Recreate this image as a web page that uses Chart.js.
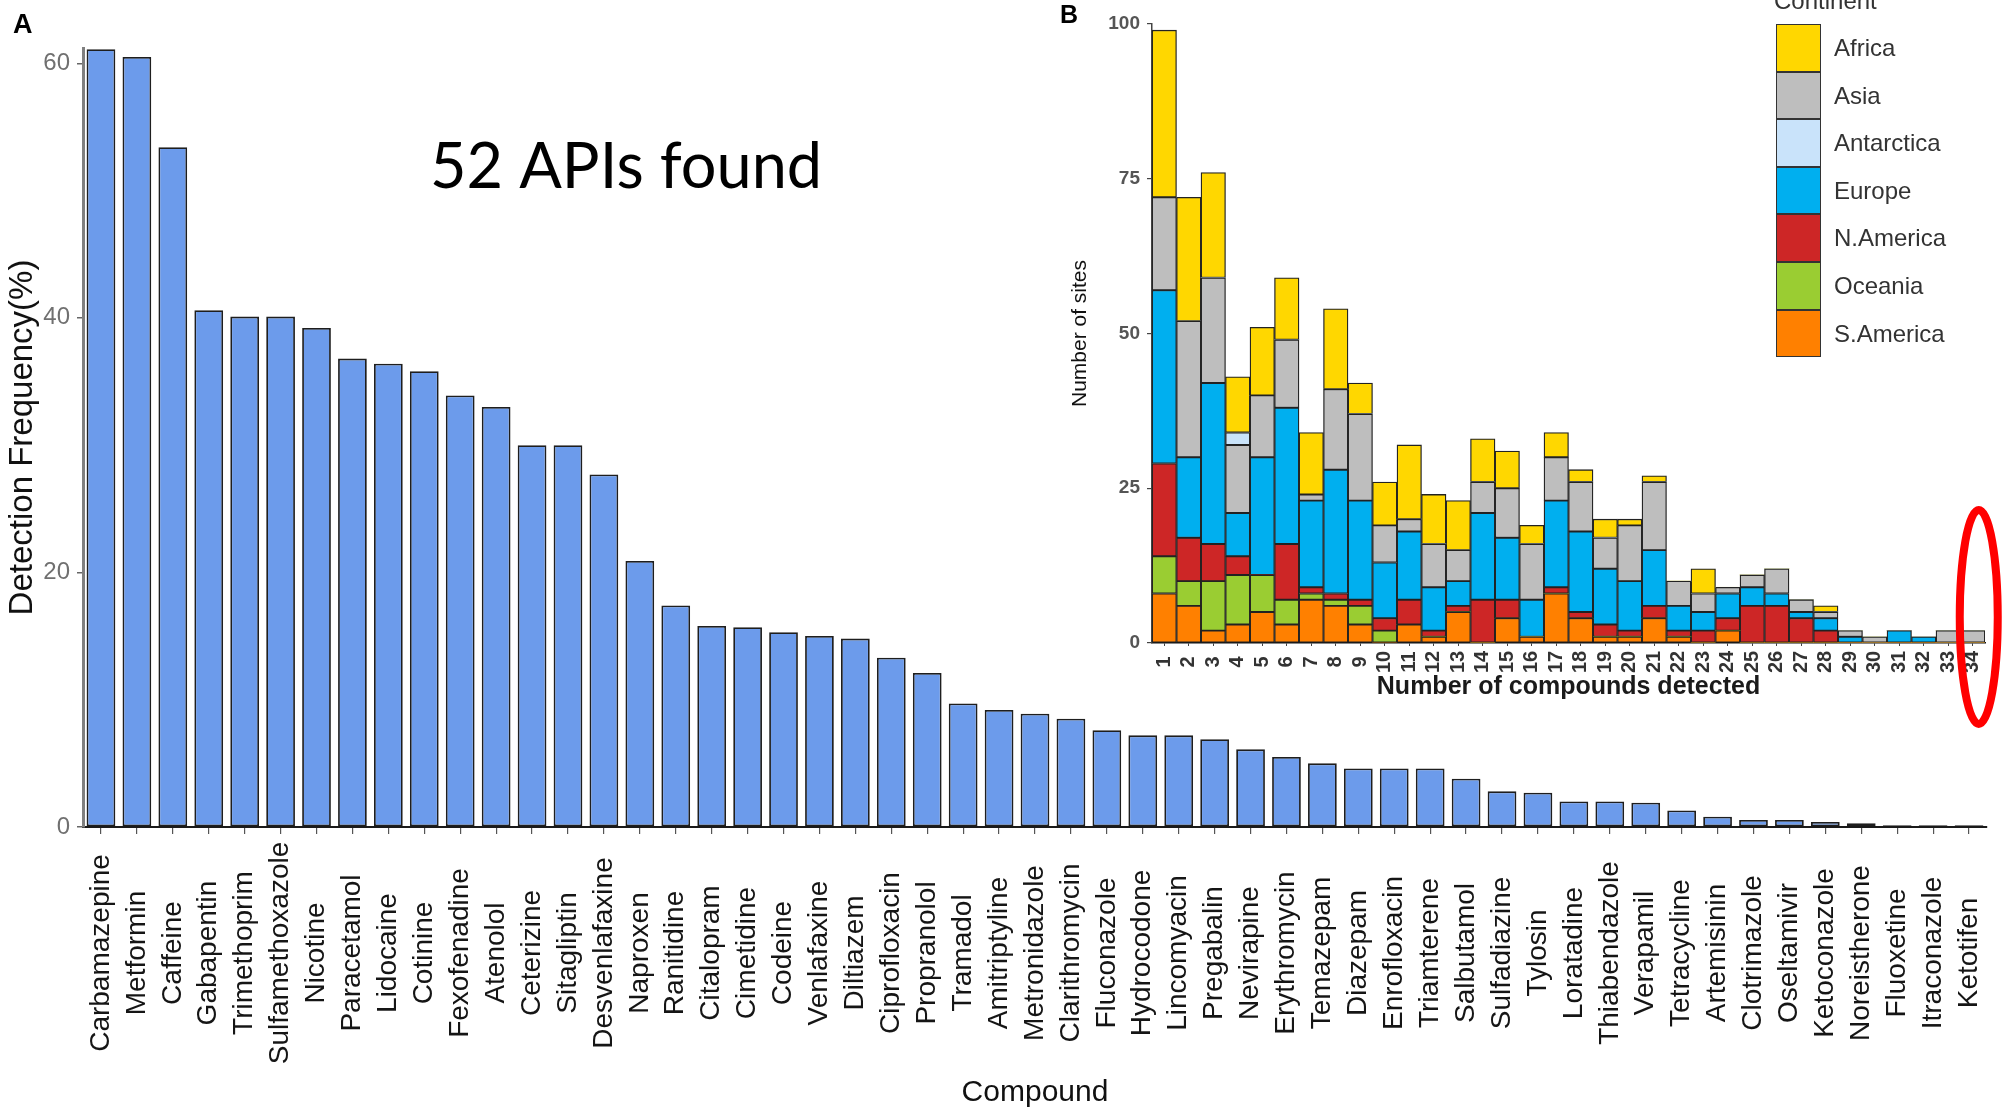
<!DOCTYPE html>
<html>
<head>
<meta charset="utf-8">
<script src="https://cdn.jsdelivr.net/npm/chart.js@4.4.1/dist/chart.umd.min.js"></script>
<style>
  html, body { margin: 0; padding: 0; background: #fff; }
  #wrap { position: relative; width: 2011px; height: 1111px; overflow: hidden; background: #fff;
          font-family: 'Liberation Sans', Arial, sans-serif; }
  #cA { position: absolute; left: 0; top: 0; }
  #cB { position: absolute; left: 1040px; top: 0; }
  #legendTitle { position: absolute; left: 1774px; top: -11px; font-size: 24px; line-height: 24px; color: #333; }
  #legend { position: absolute; left: 1776px; top: 24px; }
  .lrow { position: absolute; left: 0; height: 47.6px; width: 230px; }
  .lkey { position: absolute; left: 0; top: 0; width: 45px; height: 47.6px; box-sizing: border-box; border: 1.6px solid #333; }
  .ltxt { position: absolute; left: 58px; top: 0; line-height: 47.6px; font-size: 24px; color: #333; white-space: nowrap; }
</style>
</head>
<body>
<div id="wrap">
  <canvas id="cA" width="2011" height="1111"></canvas>
  <canvas id="cB" width="971" height="740"></canvas>
  <div id="legendTitle">Continent</div>
  <div id="legend"></div>
</div>
<script>
// ---------- Panel A data ----------
const compounds = ["Carbamazepine","Metformin","Caffeine","Gabapentin","Trimethoprim","Sulfamethoxazole","Nicotine",
  "Paracetamol","Lidocaine","Cotinine","Fexofenadine","Atenolol","Ceterizine","Sitagliptin","Desvenlafaxine",
  "Naproxen","Ranitidine","Citalopram","Cimetidine","Codeine","Venlafaxine","Diltiazem","Ciprofloxacin",
  "Propranolol","Tramadol","Amitriptyline","Metronidazole","Clarithromycin","Fluconazole","Hydrocodone",
  "Lincomyacin","Pregabalin","Nevirapine","Erythromycin","Temazepam","Diazepam","Enrofloxacin","Triamterene",
  "Salbutamol","Sulfadiazine","Tylosin","Loratadine","Thiabendazole","Verapamil","Tetracycline","Artemisinin",
  "Clotrimazole","Oseltamivir","Ketoconazole","Noreistherone","Fluoxetine","Itraconazole","Ketotifen"];
const detectionFrequency = [61.1,60.5,53.4,40.6,40.1,40.1,39.2,36.8,36.4,35.8,33.9,33.0,30.0,30.0,27.7,
  20.9,17.4,15.8,15.7,15.3,15.0,14.8,13.3,12.1,9.7,9.2,8.9,8.5,7.6,7.2,7.2,6.9,6.1,5.5,5.0,4.6,4.6,4.6,
  3.8,2.8,2.7,2.0,2.0,1.9,1.3,0.8,0.55,0.55,0.4,0.3,0.13,0.13,0.13];
const freqTicks = [0, 20, 40, 60];

// ---------- Panel B data ----------
const compoundsDetected = ["1","2","3","4","5","6","7","8","9","10","11","12","13","14","15","16","17",
  "18","19","20","21","22","23","24","25","26","27","28","29","30","31","32","33","34"];
const sAmerica   = [8,6,2,3,5,3,7,6,3,0,3,1,5,0,4,1,8,4,1,1,4,1,0,2,0,0,0,0,0,0,0,0,0,0];
const oceania    = [6,4,8,8,6,4,1,1,3,2,0,0,0,0,0,0,0,0,0,0,0,0,0,0,0,0,0,0,0,0,0,0,0,0];
const nAmerica   = [15,7,6,3,0,9,1,1,1,2,4,1,1,7,3,0,1,1,2,1,2,1,2,2,6,6,4,2,0,0,0,0,0,0];
const europe     = [28,13,26,7,19,22,14,20,16,9,11,7,4,14,10,6,14,13,9,8,9,4,3,4,3,2,1,2,1,0,2,1,0,0];
const asia       = [15,22,17,11,10,11,1,13,14,6,2,7,5,5,8,9,7,8,5,9,11,4,3,1,2,4,2,1,1,1,0,0,2,2];
const antarctica = [0,0,0,2,0,0,0,0,0,0,0,0,0,0,0,0,0,0,0,0,0,0,0,0,0,0,0,0,0,0,0,0,0,0];
const africa     = [27,20,17,9,11,10,10,13,5,7,12,8,8,7,6,3,4,2,3,1,1,0,4,0,0,0,0,1,0,0,0,0,0,0];
const sitesTicks = [0, 25, 50, 75, 100];

const legendOrder = ["Africa","Asia","Antarctica","Europe","N.America","Oceania","S.America"];
const continentColors = {
  "Africa": "#FFD700", "Asia": "#BEBEBE", "Antarctica": "#C9E3FA", "Europe": "#00AFEF",
  "N.America": "#CD2626", "Oceania": "#9ACD32", "S.America": "#FF8000"
};
// stacking order bottom -> top as in the figure
const stackSeries = [
  ["S.America", sAmerica], ["Oceania", oceania], ["N.America", nAmerica], ["Europe", europe],
  ["Asia", asia], ["Antarctica", antarctica], ["Africa", africa]
];

const FAMILY = "'Liberation Sans', Arial, sans-serif";
Chart.defaults.font.family = FAMILY;
Chart.defaults.animation = false;

function centeredRotatedLabels(id, offsetFromAxis, font, color) {
  return {
    id,
    afterDraw(chart) {
      const s = chart.scales.x, ctx = chart.ctx;
      const cy = s.top + offsetFromAxis;
      ctx.save();
      ctx.font = font; ctx.fillStyle = color;
      ctx.textAlign = 'center'; ctx.textBaseline = 'middle';
      s.ticks.forEach((t, i) => {
        const x = s.getPixelForTick(i);
        ctx.save(); ctx.translate(x, cy); ctx.rotate(-Math.PI / 2);
        ctx.fillText(s.getLabelForValue(t.value), 0, 0);
        ctx.restore();
      });
      ctx.restore();
    }
  };
}

const annotationsA = {
  id: 'annotA',
  afterDraw(chart) {
    const ctx = chart.ctx;
    ctx.save();
    ctx.fillStyle = '#000'; ctx.textBaseline = 'alphabetic'; ctx.textAlign = 'left';
    ctx.font = "bold 27px " + FAMILY; ctx.fillText('A', 13, 33);
    ctx.font = "bold 25px " + FAMILY; ctx.fillText('B', 1060, 23);
    ctx.font = "63px Lato, 'Open Sans', sans-serif"; ctx.fillText('52 APIs found', 430, 188);
    ctx.restore();
  }
};

new Chart(document.getElementById('cA'), {
  type: 'bar',
  data: {
    labels: compounds,
    datasets: [{
      data: detectionFrequency,
      backgroundColor: '#6C9BEB', borderColor: '#1e1e1e', borderWidth: 1.8, borderSkipped: false,
      barPercentage: 0.8, categoryPercentage: 1.0
    }]
  },
  options: {
    responsive: false, animation: false,
    layout: { padding: { top: 48, right: 24, left: 0, bottom: 0 } },
    plugins: { legend: { display: false }, tooltip: { enabled: false } },
    scales: {
      x: {
        ticks: { display: false, autoSkip: false },
        grid: { display: true, drawOnChartArea: false, drawTicks: true, tickLength: 7, color: '#555', lineWidth: 1.2, offset: false },
        border: { display: true, color: '#1a1a1a', width: 2 },
        title: { display: true, text: 'Compound', font: { size: 30 }, color: '#111', padding: { top: 0, bottom: 0 } },
        afterFit(s) { s.height = 284; }
      },
      y: {
        min: 0, max: 61.2,
        afterBuildTicks(s) { s.ticks = freqTicks.map(v => ({ value: v })); },
        ticks: { font: { size: 24 }, color: '#707070', padding: 7 },
        grid: { display: true, drawOnChartArea: false, drawTicks: true, tickLength: 6, color: '#666', lineWidth: 1.5 },
        border: { display: true, color: '#808080', width: 3 },
        title: { display: true, text: 'Detection Frequency(%)', font: { size: 33 }, color: '#111', padding: { top: 3, bottom: 0 } },
        afterFit(s) { s.width = 83; }
      }
    }
  },
  plugins: [centeredRotatedLabels('labelsA', 126, "28px " + FAMILY, '#151515'), annotationsA]
});

const ellipsePlugin = {
  id: 'redEllipse',
  afterDraw(chart) {
    const ctx = chart.ctx, x = chart.scales.x, y = chart.scales.y;
    const cx = x.getPixelForValue(compoundsDetected.length - 1) + 6;
    const cy = y.getPixelForValue(0) - 26;
    ctx.save();
    ctx.strokeStyle = '#FF0000'; ctx.lineWidth = 8;
    ctx.beginPath(); ctx.ellipse(cx, cy, 19, 107, 0, 0, Math.PI * 2); ctx.stroke();
    ctx.restore();
  }
};

new Chart(document.getElementById('cB'), {
  type: 'bar',
  data: {
    labels: compoundsDetected,
    datasets: stackSeries.map(([name, values]) => ({
      label: name, data: values,
      backgroundColor: continentColors[name], borderColor: '#222',
      borderWidth: c => (c.raw > 0 ? 1.3 : 0), borderSkipped: false,
      barPercentage: 1.0, categoryPercentage: 1.0
    }))
  },
  options: {
    responsive: false, animation: false,
    layout: { padding: { top: 24, right: 26, left: 0, bottom: 0 } },
    plugins: { legend: { display: false }, tooltip: { enabled: false } },
    scales: {
      x: {
        stacked: true,
        ticks: { display: false, autoSkip: false },
        grid: { display: true, drawOnChartArea: false, drawTicks: true, tickLength: 3, color: '#444', offset: false },
        border: { display: true, color: '#111', width: 1.5 },
        title: { display: true, text: 'Number of compounds detected', font: { size: 25, weight: 'bold' }, color: '#1a1a1a', padding: { top: 0, bottom: 38 } },
        afterFit(s) { s.height = 97; }
      },
      y: {
        stacked: true, min: 0, max: 100,
        afterBuildTicks(s) { s.ticks = sitesTicks.map(v => ({ value: v })); },
        ticks: { font: { size: 19, weight: 'bold' }, color: '#555', padding: 7 },
        grid: { display: true, drawOnChartArea: false, drawTicks: true, tickLength: 5, color: '#444', lineWidth: 1.2 },
        border: { display: true, color: '#444', width: 1.5 },
        title: { display: true, text: 'Number of sites', font: { size: 21 }, color: '#111', padding: { top: 28, bottom: 0 } },
        afterFit(s) { s.width = 112; }
      }
    }
  },
  plugins: [centeredRotatedLabels('labelsB', 19, "bold 20px " + FAMILY, '#333'), ellipsePlugin]
});

// HTML legend built from the continent arrays
const legendEl = document.getElementById('legend');
legendOrder.forEach((name, i) => {
  const row = document.createElement('div');
  row.className = 'lrow'; row.style.top = (i * 47.6) + 'px';
  const key = document.createElement('div');
  key.className = 'lkey'; key.style.background = continentColors[name];
  const txt = document.createElement('div');
  txt.className = 'ltxt'; txt.textContent = name;
  row.appendChild(key); row.appendChild(txt);
  legendEl.appendChild(row);
});
</script>
</body>
</html>
